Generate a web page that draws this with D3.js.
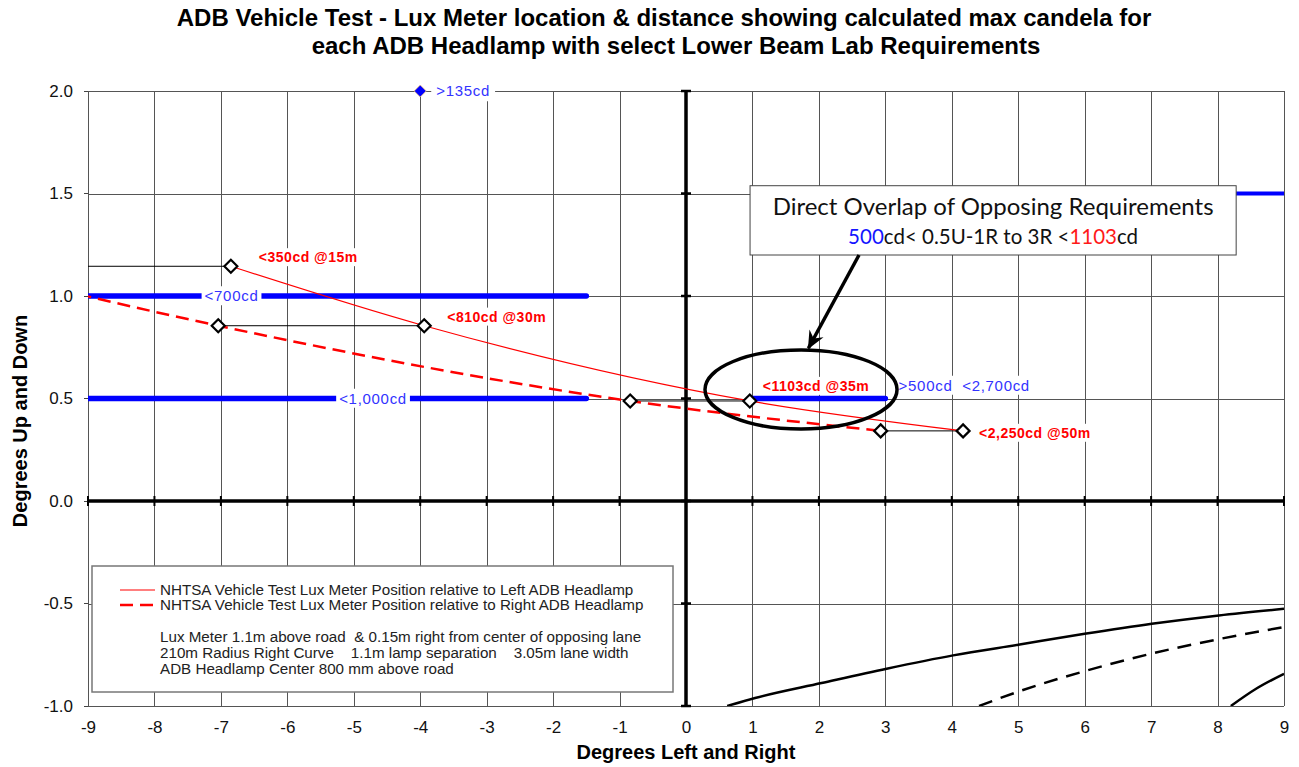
<!DOCTYPE html>
<html>
<head>
<meta charset="utf-8">
<script src="https://cdn.jsdelivr.net/npm/d3@7"></script>
<style>
	body { margin: 0; background: #fff; }
	svg { display: block; font-family: "Liberation Sans", Arial, sans-serif; }
	.grid line { stroke: #555; stroke-width: 1; shape-rendering: crispEdges; }
	.tick-label { font-size: 17px; fill: #111; }
	.axis-title { font-size: 20px; font-weight: bold; fill: #000; }
	.red-label { font-size: 14px; font-weight: bold; fill: #ff0000; letter-spacing: 0.5px; }
	.blue-label { font-size: 15px; fill: #3333ff; letter-spacing: 0.7px; white-space: pre; }
	.legend-text { font-size: 15.2px; fill: #222; white-space: pre; }
</style>
</head>
<body>
<div id="chart"></div>
<script>
// ---- values ----
var xTicks = d3.range(-9, 10, 1);
var yTicks = [-1.0, -0.5, 0.0, 0.5, 1.0, 1.5, 2.0];

// lux meter position (degrees) for each test distance
var distances = [15, 30, 35, 50];
var meterUp = [1.145, 0.855, 0.488, 0.342];
var leftLampX = [-6.85, -3.94, 0.96, 4.17];
var rightLampX = [-10.9, -7.04, -0.84, 2.93];
var maxCandela = ['<350cd @15m', '<810cd @30m', '<1103cd @35m', '<2,250cd @50m'];

// lower beam lab requirement segments
var reqUp = [1.0, 0.5, 0.5, 1.5];
var reqFrom = [-9, -9, 1, 8];
var reqTo = [-1.5, -1.5, 3, 9];
var reqText = ['<700cd', '<1,000cd', '>500cd  <2,700cd', ''];

// single point requirement
var pointReqX = [-4];
var pointReqUp = [2.0];
var pointReqText = ['>135cd'];

// black reference curves, lower right
var curveSolid = [[0.62, -1.0], [1.04, -0.961], [2.04, -0.888], [3.02, -0.818], [4.02, -0.753],
	[5.0, -0.701], [6.0, -0.648], [7.01, -0.599], [8.02, -0.558], [9, -0.526]];
var curveDashed = [[4.41, -1.0], [5.0, -0.93], [6.0, -0.83], [7.0, -0.745], [8.0, -0.675], [9, -0.615]];
var curveCorner = [[8.2, -1.0], [8.58, -0.916], [9, -0.843]];

var legendLines = [
	'NHTSA Vehicle Test Lux Meter Position relative to Left ADB Headlamp',
	'NHTSA Vehicle Test Lux Meter Position relative to Right ADB Headlamp'
];
var legendNotes = [
	'Lux Meter 1.1m above road  & 0.15m right from center of opposing lane',
	'210m Radius Right Curve    1.1m lamp separation    3.05m lane width',
	'ADB Headlamp Center 800 mm above road'
];

// ---- layout ----
var width = 1299,
	height = 767,
	margin = {top: 91, right: 15, bottom: 61, left: 88};
var drawWidth = width - margin.left - margin.right,
	drawHeight = height - margin.top - margin.bottom;

// label nudges in px from the left lamp marker
var candelaNudge = [[28, -9], [23, -9], [13, -15], [16, 2]];
// requirement label anchor (degrees) and vertical nudge
var reqLabelX = [-6.84, -4.71, 3.2, null];
var reqLabelAnchor = ['middle', 'middle', 'start', 'middle'];
var reqLabelDy = [0, 0, -13, 0];

var xScale = d3.scaleLinear().domain([-9, 9]).range([0, drawWidth]);
var yScale = d3.scaleLinear().domain([-1, 2]).range([drawHeight, 0]);

var svg = d3.select('#chart').append('svg')
	.attr('width', width)
	.attr('height', height);

svg.append('defs').append('clipPath')
	.attr('id', 'plot-clip')
	.append('rect')
	.attr('width', drawWidth)
	.attr('height', drawHeight);

var marker = svg.select('defs').append('marker')
	.attr('id', 'arrow')
	.attr('markerUnits', 'userSpaceOnUse')
	.attr('viewBox', '-18 -9 20 18')
	.attr('markerWidth', 20)
	.attr('markerHeight', 18)
	.attr('refX', 0)
	.attr('refY', 0)
	.attr('orient', 'auto');
marker.append('path')
	.attr('d', 'M1,0 L-17,-8 L-11,0 L-17,8 Z')
	.attr('fill', '#000');

// title
svg.append('text')
	.attr('x', 664).attr('y', 26)
	.attr('text-anchor', 'middle')
	.style('font-size', '24px').style('font-weight', 'bold')
	.text('ADB Vehicle Test - Lux Meter location & distance showing calculated max candela for');
svg.append('text')
	.attr('x', 676).attr('y', 54)
	.attr('text-anchor', 'middle')
	.style('font-size', '24px').style('font-weight', 'bold')
	.text('each ADB Headlamp with select Lower Beam Lab Requirements');

var g = svg.append('g')
	.attr('transform', 'translate(' + margin.left + ',' + margin.top + ')');

// grid from the axes
var xAxis = d3.axisBottom(xScale)
	.tickValues(xTicks)
	.tickSize(-drawHeight)
	.tickPadding(15)
	.tickFormat(function(d) { return String(d); });
var yAxis = d3.axisLeft(yScale)
	.tickValues(yTicks)
	.tickSize(-drawWidth)
	.tickPadding(15)
	.tickFormat(function(d) { return d.toFixed(1); });

var xAxisG = g.append('g')
	.attr('class', 'grid x')
	.attr('transform', 'translate(0,' + drawHeight + ')')
	.call(xAxis);
var yAxisG = g.append('g')
	.attr('class', 'grid y')
	.call(yAxis);

[xAxisG, yAxisG].forEach(function(a) {
	a.select('.domain').remove();
	a.selectAll('text')
		.attr('class', 'tick-label')
		.style('font-family', null)
		.style('font-size', null);
	a.attr('font-family', null).attr('font-size', null);
});

// small outward ticks on the left frame
g.append('g').selectAll('line')
	.data(yTicks).enter().append('line')
	.attr('x1', -4).attr('x2', 0)
	.attr('y1', function(d) { return yScale(d); })
	.attr('y2', function(d) { return yScale(d); })
	.attr('stroke', '#444')
	.attr('shape-rendering', 'crispEdges');

// heavy zero axes
g.append('line')
	.attr('x1', xScale(0)).attr('x2', xScale(0))
	.attr('y1', 0).attr('y2', drawHeight)
	.attr('stroke', '#000').attr('stroke-width', 3.5);
g.append('line')
	.attr('x1', 0).attr('x2', drawWidth)
	.attr('y1', yScale(0)).attr('y2', yScale(0))
	.attr('stroke', '#000').attr('stroke-width', 3.5);

g.append('g').selectAll('line')
	.data(yTicks).enter().append('line')
	.attr('x1', xScale(0) - 5).attr('x2', xScale(0) + 5)
	.attr('y1', function(d) { return yScale(d); })
	.attr('y2', function(d) { return yScale(d); })
	.attr('stroke', '#000').attr('stroke-width', 2.5);
g.append('g').selectAll('line')
	.data(xTicks).enter().append('line')
	.attr('x1', function(d) { return xScale(d); })
	.attr('x2', function(d) { return xScale(d); })
	.attr('y1', yScale(0) - 5).attr('y2', yScale(0) + 5)
	.attr('stroke', '#000').attr('stroke-width', 2);

var plot = g.append('g').attr('clip-path', 'url(#plot-clip)');

// requirement bars
var reqs = reqUp.map(function(d, i) {
	return {y: d, x0: reqFrom[i], x1: reqTo[i], text: reqText[i], lx: reqLabelX[i], anchor: reqLabelAnchor[i], dy: reqLabelDy[i], top: d === 1.5};
});
plot.selectAll('.req')
	.data(reqs).enter().append('line')
	.attr('class', 'req')
	.attr('x1', function(d) { return xScale(d.x0); })
	.attr('x2', function(d) { return xScale(d.x1); })
	.attr('y1', function(d) { return yScale(d.y); })
	.attr('y2', function(d) { return yScale(d.y); })
	.attr('stroke', '#0000ff')
	.attr('stroke-width', function(d) { return d.top ? 4 : 5.5; })
	.attr('stroke-linecap', function(d) { return d.top ? 'butt' : 'round'; });

// connector lines between the two lamp positions at each distance
plot.selectAll('.connector')
	.data(distances).enter().append('line')
	.attr('class', 'connector')
	.attr('x1', function(d, i) { return xScale(rightLampX[i]); })
	.attr('x2', function(d, i) { return xScale(leftLampX[i]); })
	.attr('y1', function(d, i) { return yScale(meterUp[i]); })
	.attr('y2', function(d, i) { return yScale(meterUp[i]); })
	.attr('stroke', '#000').attr('stroke-width', 1);

var line = d3.line()
	.x(function(d) { return xScale(d[0]); })
	.y(function(d) { return yScale(d[1]); })
	.curve(d3.curveMonotoneX);

var leftPts = leftLampX.map(function(x, i) { return [x, meterUp[i]]; });
var rightPts = rightLampX.map(function(x, i) { return [x, meterUp[i]]; });

plot.append('path')
	.attr('d', line(leftPts))
	.attr('fill', 'none')
	.attr('stroke', '#ff0000')
	.attr('stroke-width', 1.2);
plot.append('path')
	.attr('d', line(rightPts))
	.attr('fill', 'none')
	.attr('stroke', '#ff0000')
	.attr('stroke-width', 2.5)
	.attr('stroke-dasharray', '13,7');

// black curves
plot.append('path')
	.attr('d', line(curveSolid))
	.attr('fill', 'none').attr('stroke', '#000').attr('stroke-width', 2.5);
plot.append('path')
	.attr('d', line(curveDashed))
	.attr('fill', 'none').attr('stroke', '#000').attr('stroke-width', 2.5)
	.attr('stroke-dasharray', '14,9');
plot.append('path')
	.attr('d', line(curveCorner))
	.attr('fill', 'none').attr('stroke', '#000').attr('stroke-width', 2.5);

// text with white box behind it
function boxedText(parent, x, y, text, cls, anchor, pad) {
	var grp = parent.append('g');
	var bg = grp.append('rect').attr('fill', '#fff');
	var t = grp.append('text')
		.attr('class', cls)
		.attr('x', x).attr('y', y)
		.attr('dy', '0.35em')
		.attr('text-anchor', anchor)
		.text(text);
	var bb = t.node().getBBox();
	bg.attr('x', bb.x - pad[0]).attr('y', bb.y - pad[1])
		.attr('width', bb.width + 2 * pad[0])
		.attr('height', bb.height + 2 * pad[1]);
	return grp;
}

reqs.forEach(function(d) {
	if (!d.text) return;
	boxedText(g, xScale(d.lx), yScale(d.y) + d.dy, d.text, 'blue-label', d.anchor, [3, 1]);
});

// point requirement
pointReqX.forEach(function(x, i) {
	boxedText(g, xScale(x) + 16, yScale(pointReqUp[i]), pointReqText[i], 'blue-label', 'start', [5, 2]);
	g.append('path')
		.attr('transform', 'translate(' + xScale(x) + ',' + yScale(pointReqUp[i]) + ')')
		.attr('d', 'M0,-6 L6,0 L0,6 L-6,0 Z')
		.attr('fill', '#0000ff')
		.attr('stroke', '#f0c080').attr('stroke-width', 0.8);
});

// lamp markers
var markerPath = 'M0,-6.5 L6.5,0 L0,6.5 L-6.5,0 Z';
plot.selectAll('.mk')
	.data(leftPts.concat(rightPts)).enter().append('path')
	.attr('class', 'mk')
	.attr('transform', function(d) { return 'translate(' + xScale(d[0]) + ',' + yScale(d[1]) + ')'; })
	.attr('d', markerPath)
	.attr('fill', '#fff')
	.attr('stroke', '#000')
	.attr('stroke-width', 2.2);

// max candela labels
maxCandela.forEach(function(txt, i) {
	boxedText(g, xScale(leftLampX[i]) + candelaNudge[i][0], yScale(meterUp[i]) + candelaNudge[i][1],
		txt, 'red-label', 'start', [2, 1]);
});

// legend box
var lg = svg.append('g').attr('transform', 'translate(92,566)');
lg.append('rect')
	.attr('width', 581).attr('height', 126)
	.attr('fill', '#fff')
	.attr('stroke', '#777').attr('stroke-width', 1.5);
lg.append('line')
	.attr('x1', 28).attr('x2', 63).attr('y1', 24).attr('y2', 24)
	.attr('stroke', '#ff0000').attr('stroke-width', 1.2);
lg.append('line')
	.attr('x1', 28).attr('x2', 63).attr('y1', 39).attr('y2', 39)
	.attr('stroke', '#ff0000').attr('stroke-width', 2.5)
	.attr('stroke-dasharray', '13,7');
lg.selectAll('.lt')
	.data(legendLines).enter().append('text')
	.attr('class', 'legend-text')
	.attr('x', 68)
	.attr('y', function(d, i) { return 24 + i * 15; })
	.attr('dy', '0.35em')
	.text(function(d) { return d; });
lg.selectAll('.ln')
	.data(legendNotes).enter().append('text')
	.attr('class', 'legend-text')
	.attr('x', 68)
	.attr('y', function(d, i) { return 71 + i * 16; })
	.attr('dy', '0.35em')
	.text(function(d) { return d; });

// callout: box, arrow, ellipse
var boxX0 = xScale(0.964), boxX1 = xScale(8.28),
	boxY0 = yScale(1.538), boxY1 = yScale(1.2);
var note = g.append('g');
note.append('rect')
	.attr('x', boxX0).attr('y', boxY0)
	.attr('width', boxX1 - boxX0).attr('height', boxY1 - boxY0)
	.attr('fill', '#fff')
	.attr('stroke', '#444').attr('stroke-width', 1);
note.append('text')
	.attr('x', (boxX0 + boxX1) / 2).attr('y', boxY0 + 21)
	.attr('dy', '0.35em')
	.attr('text-anchor', 'middle')
	.style('font-family', 'Lato, "Open Sans", sans-serif')
	.style('font-size', '24px')
	.attr('fill', '#111')
	.text('Direct Overlap of Opposing Requirements');
var sub = note.append('text')
	.attr('x', (boxX0 + boxX1) / 2).attr('y', boxY0 + 51)
	.attr('dy', '0.35em')
	.attr('text-anchor', 'middle')
	.style('font-family', 'Lato, "Open Sans", sans-serif')
	.style('font-size', '20.5px')
	.attr('fill', '#111');
sub.append('tspan').attr('fill', '#1515ff').text('500');
sub.append('tspan').text('cd< 0.5U-1R to 3R <');
sub.append('tspan').attr('fill', '#ff1a1a').text('1103');
sub.append('tspan').text('cd');

g.append('line')
	.attr('x1', xScale(2.604)).attr('y1', yScale(1.2))
	.attr('x2', xScale(1.842)).attr('y2', yScale(0.745))
	.attr('stroke', '#000').attr('stroke-width', 3.5)
	.attr('marker-end', 'url(#arrow)');

g.append('ellipse')
	.attr('cx', xScale(1.731)).attr('cy', yScale(0.544))
	.attr('rx', xScale(1.445) - xScale(0))
	.attr('ry', yScale(0) - yScale(0.193))
	.attr('fill', 'none')
	.attr('stroke', '#000').attr('stroke-width', 3.5);

// axis titles
svg.append('text')
	.attr('class', 'axis-title')
	.attr('x', margin.left + drawWidth / 2).attr('y', 752)
	.attr('dy', '0.35em')
	.attr('text-anchor', 'middle')
	.text('Degrees Left and Right');
svg.append('text')
	.attr('class', 'axis-title')
	.attr('transform', 'translate(20,421) rotate(-90)')
	.attr('dy', '0.35em')
	.attr('text-anchor', 'middle')
	.text('Degrees Up and Down');
</script>
</body>
</html>
